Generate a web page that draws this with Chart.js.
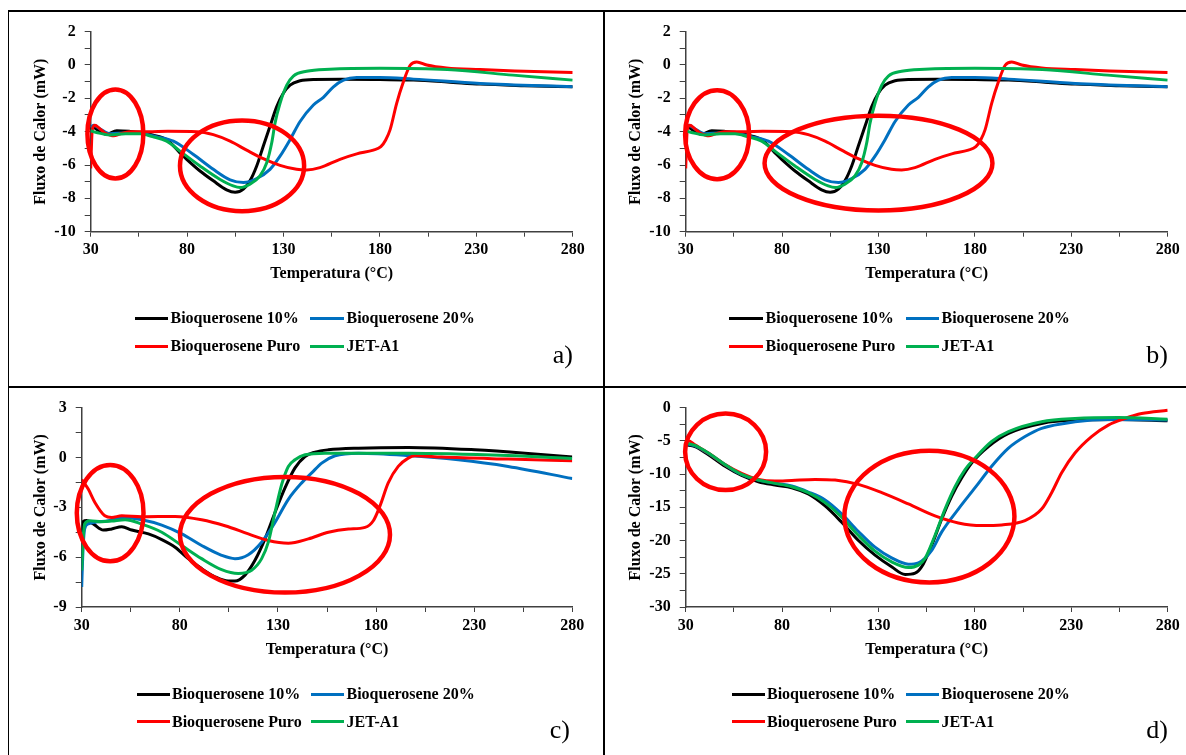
<!DOCTYPE html>
<html><head><meta charset="utf-8">
<script src="https://cdn.jsdelivr.net/npm/chart.js@4.4.1/dist/chart.umd.min.js"></script>
<style>
html,body{margin:0;padding:0;background:#fff;}
body{width:1186px;height:755px;position:relative;overflow:hidden;font-family:"Liberation Serif","Times New Roman",serif;}
canvas{position:absolute;}
.rule{position:absolute;background:#000;z-index:5;}
.leg{position:absolute;font-weight:bold;font-size:16px;line-height:20px;white-space:nowrap;color:#000;z-index:4;}
.legline{position:absolute;height:3px;z-index:4;}
.plab{position:absolute;font-size:26px;line-height:26px;color:#000;z-index:4;}
</style></head><body>
<script>
// ---------- DATA ----------
const SERIES = ['Bioquerosene 10%', 'Bioquerosene 20%', 'Bioquerosene Puro', 'JET-A1'];
const X_TICK_LABELS = [30, 80, 130, 180, 230, 280];
const Y_TICK_LABELS_AB = [2, 0, -2, -4, -6, -8, -10];
const Y_TICK_LABELS_C = [3, 0, -3, -6, -9];
const Y_TICK_LABELS_D = [0, -5, -10, -15, -20, -25, -30];
const PANEL_LETTERS = ['a)', 'b)', 'c)', 'd)'];

// Panels a) and b) (same curves)
const AB_T_10 = [30, 31, 33, 38, 43.5, 50, 55.6, 62, 69.4, 76.3, 79.8, 86.7, 93.6, 100.5, 104.9, 109.2, 112.6, 116.1, 119.5, 123, 126.5, 129.9, 133.4, 138.6, 145.5, 160, 180, 197.4, 215, 232, 255, 280];
const AB_F_10 = [-3.9, -3.7, -3.85, -4.15, -3.95, -3.98, -4.04, -4.2, -4.47, -5.27, -5.66, -6.36, -6.95, -7.49, -7.64, -7.45, -6.95, -6.06, -4.87, -3.68, -2.5, -1.7, -1.21, -0.95, -0.87, -0.86, -0.88, -0.91, -1.02, -1.15, -1.24, -1.31];
const AB_T_20 = [30, 31.5, 35, 40, 48, 55.6, 64, 72.9, 83.3, 93.6, 102.3, 109.2, 116.1, 123, 128.2, 133.4, 138.6, 145.5, 150.7, 155.9, 161.1, 168, 180, 197.4, 232, 280];
const AB_F_20 = [-3.75, -3.62, -3.85, -4.12, -4.08, -4.1, -4.3, -4.57, -5.37, -6.26, -6.89, -7.05, -6.81, -6.26, -5.47, -4.48, -3.39, -2.4, -1.94, -1.31, -0.91, -0.75, -0.75, -0.85, -1.11, -1.31];
const AB_T_PURO = [30, 30.8, 32.2, 34.5, 37, 40, 42, 45, 50, 60, 70, 85, 93.6, 102.3, 110.9, 119.5, 128.2, 136.8, 142, 148.9, 159.3, 168, 176.6, 180.5, 183, 185.3, 188.7, 192.2, 195.7, 199.1, 204.3, 214.6, 232, 250, 280];
const AB_F_PURO = [-6.2, -3.9, -3.62, -3.8, -4.05, -4.2, -4.25, -4.15, -4.0, -4.0, -3.98, -4.0, -4.18, -4.57, -5.11, -5.62, -6.02, -6.26, -6.3, -6.16, -5.66, -5.33, -5.11, -4.9, -4.5, -3.88, -2.3, -1.01, -0.02, 0.18, 0.0, -0.18, -0.28, -0.36, -0.46];
const AB_T_JET = [30, 33, 40, 48, 55.6, 62, 69.4, 76.3, 86.7, 96.9, 103.9, 107.5, 112.6, 117.8, 121.3, 123.9, 125.6, 128.2, 131.7, 135.1, 142, 154, 180, 215, 249, 280];
const AB_F_JET = [-3.95, -4.05, -4.2, -4.12, -4.13, -4.3, -4.57, -5.17, -6.06, -6.85, -7.25, -7.35, -7.15, -6.65, -5.86, -4.67, -3.49, -2.3, -1.21, -0.67, -0.38, -0.26, -0.2, -0.28, -0.61, -0.91];

// Panel c)
const C_T_10 = [30, 30.8, 32.5, 35.9, 41, 45.3, 50.4, 55.5, 64, 70.8, 77.6, 84.3, 91.1, 97.9, 104.7, 108.1, 113.2, 118.3, 123.4, 128.5, 133.6, 138.7, 143.8, 148.9, 155.7, 171, 196.4, 230.4, 255.9, 280];
const C_F_10 = [-4.5, -3.85, -3.8, -4.0, -4.37, -4.3, -4.17, -4.37, -4.6, -4.94, -5.4, -6.09, -6.69, -7.18, -7.44, -7.44, -7.08, -6.19, -4.9, -3.31, -1.83, -0.63, 0.06, 0.32, 0.46, 0.56, 0.6, 0.46, 0.26, 0.02];
const C_T_20 = [30, 30.5, 31.5, 33.4, 36.8, 43.6, 50.4, 60.6, 70.8, 81, 91.1, 101.3, 108.1, 114.9, 121.7, 128.5, 135.3, 142.1, 147.2, 152.3, 159.1, 171, 196.4, 221.9, 247.3, 280];
const C_F_20 = [-7.8, -6.0, -4.3, -4.0, -3.9, -3.81, -3.61, -3.75, -4.07, -4.6, -5.3, -5.89, -6.09, -5.85, -5.1, -3.91, -2.52, -1.53, -0.93, -0.34, 0.1, 0.26, 0.12, -0.14, -0.54, -1.27];
const C_T_PURO = [30, 33.4, 36.8, 41.8, 45.3, 50.4, 60.6, 77.6, 91.1, 103, 114.9, 125.1, 135.3, 145.5, 155.7, 165.9, 174.4, 178.6, 182, 186.2, 191.3, 196.4, 199.8, 213.4, 247.3, 280];
const C_F_PURO = [-1.33, -1.92, -2.72, -3.51, -3.61, -3.51, -3.57, -3.55, -3.75, -4.11, -4.6, -5.0, -5.16, -4.9, -4.5, -4.31, -4.21, -3.81, -2.92, -1.53, -0.54, -0.04, 0.1, 0.02, -0.1, -0.2];
const C_T_JET = [30, 30.6, 31.5, 34.2, 40.2, 45.3, 52.1, 60.6, 70.8, 81, 91.1, 101.3, 109.8, 116.6, 121.7, 125.1, 128.5, 131.9, 135.3, 138.7, 143.8, 154, 196.4, 247.3, 280];
const C_F_JET = [-6.8, -5.2, -4.0, -3.81, -3.87, -3.83, -3.75, -4.01, -4.5, -5.3, -6.09, -6.75, -6.98, -6.79, -6.09, -5.1, -3.31, -1.63, -0.54, -0.14, 0.16, 0.26, 0.26, 0.12, -0.06];

// Panel d)
const D_T_10 = [30, 34.8, 41.8, 50.4, 59, 67.7, 76.3, 85, 93.6, 102.3, 110.9, 119.6, 128.2, 136.8, 143.8, 149, 152.4, 157.6, 162.8, 168, 173.2, 178.4, 187, 197.4, 214.6, 231.9, 255, 280];
const D_F_10 = [-5.6, -5.85, -7.09, -8.82, -10.2, -11.15, -11.65, -12.05, -13.0, -14.8, -17.25, -20.0, -22.2, -23.95, -25.1, -24.9, -23.95, -20.7, -16.75, -13.3, -10.55, -8.3, -5.85, -3.87, -2.38, -1.88, -1.8, -1.98];
const D_T_20 = [30, 34.8, 41.8, 50.4, 59, 67.7, 76.3, 85, 93.6, 102.3, 110.9, 119.6, 128.2, 136.8, 145.5, 150.7, 157.6, 162.8, 171.4, 180.1, 188.7, 197.4, 206, 214.6, 231.9, 249.2, 280];
const D_F_20 = [-5.4, -5.75, -6.9, -8.6, -10.06, -10.9, -11.35, -11.8, -12.7, -13.9, -16.0, -18.64, -21.0, -22.6, -23.55, -23.35, -21.47, -18.7, -15.27, -12.05, -8.82, -6.1, -4.36, -3.12, -2.13, -1.78, -1.88];
const D_T_PURO = [30, 31.4, 34.8, 41.8, 50.4, 59, 67.7, 76.3, 85, 97.1, 107.5, 119.6, 131.7, 145.5, 159.3, 171.4, 183.5, 193.9, 206, 214.6, 219.8, 225, 231.9, 240.5, 249.2, 257.8, 266.5, 280];
const D_F_PURO = [-5.2, -5.0, -5.6, -6.84, -8.58, -9.9, -10.8, -11.05, -10.95, -10.8, -10.9, -11.55, -12.8, -14.5, -16.3, -17.35, -17.75, -17.65, -17.0, -15.27, -12.8, -9.8, -6.84, -4.36, -2.63, -1.64, -0.9, -0.4];
const D_T_JET = [30, 34.8, 41.8, 50.4, 59, 67.7, 76.3, 85, 93.6, 102.3, 110.9, 119.6, 128.2, 136.8, 145.5, 150.7, 154.1, 159.3, 164.5, 169.7, 174.9, 180.1, 188.7, 197.4, 214.6, 231.9, 254.4, 280];
const D_F_JET = [-5.3, -5.7, -6.84, -8.58, -10.06, -10.9, -11.4, -11.9, -12.8, -14.3, -16.5, -19.24, -21.6, -23.2, -24.05, -23.7, -22.7, -19.24, -15.27, -11.9, -9.32, -7.59, -5.1, -3.62, -2.13, -1.64, -1.49, -1.74];

// Highlight ellipses: [centre temperature, centre flux, half-width (°C), half-height (mW)]
const ELLIPSES_A = [[42.8, -4.14, 14.5, 2.67], [108.5, -6.05, 32.2, 2.72]];
const ELLIPSES_B = [[46.3, -4.18, 16.6, 2.67], [130, -5.89, 59.1, 2.84]];
const ELLIPSES_C = [[44.5, -3.35, 17, 2.9], [133.6, -4.65, 53.5, 3.48]];
const ELLIPSES_D = [[50.7, -6.65, 21, 5.75], [156.4, -16.4, 44.1, 9.9]];

// ---------- STYLE / LAYOUT ----------
const COLORS = ['#000000', '#0070C0', '#FF0000', '#00B050'];
const FONT_FAMILY = '"Liberation Serif", "Times New Roman", serif';

const PANELS = [
  { series: [[AB_T_10, AB_F_10], [AB_T_20, AB_F_20], [AB_T_PURO, AB_F_PURO], [AB_T_JET, AB_F_JET]],
    ell: ELLIPSES_A, y: {min: -10, max: 2, step: 1, labels: Y_TICK_LABELS_AB},
    box: {x: 10, y: 13, w: 592, h: 372}, area: {l: 90.7, r: 572.7, t: 29.3, b: 231.7},
    yTitleX: 41, xTitleY: 274,
    leg: {rows: [318.3, 346], cols: [{l1: 134.7, l2: 168, t: 170.5}, {l1: 310, l2: 344, t: 346.5}]},
    lab: {r: 573, t: 341.7} },
  { series: [[AB_T_10, AB_F_10], [AB_T_20, AB_F_20], [AB_T_PURO, AB_F_PURO], [AB_T_JET, AB_F_JET]],
    ell: ELLIPSES_B, y: {min: -10, max: 2, step: 1, labels: Y_TICK_LABELS_AB},
    box: {x: 605, y: 13, w: 580, h: 372}, area: {l: 685.7, r: 1167.7, t: 29.3, b: 231.7},
    yTitleX: 635.6, xTitleY: 274,
    leg: {rows: [318.3, 346], cols: [{l1: 729, l2: 763, t: 765.5}, {l1: 906, l2: 939, t: 941.5}]},
    lab: {r: 1168, t: 341.7} },
  { series: [[C_T_10, C_F_10], [C_T_20, C_F_20], [C_T_PURO, C_F_PURO], [C_T_JET, C_F_JET]],
    ell: ELLIPSES_C, y: {min: -9, max: 3, step: 1.5, labels: Y_TICK_LABELS_C},
    box: {x: 10, y: 389, w: 592, h: 366}, area: {l: 81.7, r: 572.3, t: 405.3, b: 607},
    yTitleX: 41, xTitleY: 650,
    leg: {rows: [694.3, 721.7], cols: [{l1: 137, l2: 170, t: 172}, {l1: 311, l2: 344, t: 346.5}]},
    lab: {r: 570, t: 717} },
  { series: [[D_T_10, D_F_10], [D_T_20, D_F_20], [D_T_PURO, D_F_PURO], [D_T_JET, D_F_JET]],
    ell: ELLIPSES_D, y: {min: -30, max: 0, step: 2.5, labels: Y_TICK_LABELS_D},
    box: {x: 605, y: 389, w: 580, h: 366}, area: {l: 685.7, r: 1167.7, t: 405.3, b: 607},
    yTitleX: 635.6, xTitleY: 650,
    leg: {rows: [694.3, 721.7], cols: [{l1: 731.5, l2: 764.5, t: 767}, {l1: 906, l2: 939, t: 941.5}]},
    lab: {r: 1168, t: 717} }
];

Chart.defaults.font.family = FONT_FAMILY;
Chart.defaults.font.size = 16;
Chart.defaults.font.weight = 'bold';
Chart.defaults.color = '#000';

function makePanel(p, idx) {
  const cv = document.createElement('canvas');
  cv.width = p.box.w; cv.height = p.box.h;
  cv.style.left = p.box.x + 'px'; cv.style.top = p.box.y + 'px';
  cv.style.width = p.box.w + 'px'; cv.style.height = p.box.h + 'px';
  document.body.appendChild(cv);

  const lh = 16 * 1.2;
  const yW = p.area.l - p.box.x;
  const padTop = p.area.t - p.box.y;
  const padRight = p.box.x + p.box.w - p.area.r;
  const xBottom = p.xTitleY - p.box.y + lh / 2;
  const xH = xBottom - (p.area.b - p.box.y);
  const padBottom = p.box.h - xBottom;
  const yTitlePad = p.yTitleX - p.box.x - lh / 2;

  const ellipsePlugin = {
    id: 'ellipses' + idx,
    afterDatasetsDraw(chart) {
      const {ctx, scales: {x, y}} = chart;
      ctx.save();
      ctx.strokeStyle = '#FF0000';
      ctx.lineWidth = 4.5;
      p.ell.forEach(e => {
        const cx = x.getPixelForValue(e[0]), cy = y.getPixelForValue(e[1]);
        const rx = Math.abs(x.getPixelForValue(e[0] + e[2]) - cx);
        const ry = Math.abs(y.getPixelForValue(e[1] + e[3]) - cy);
        ctx.beginPath();
        ctx.ellipse(cx, cy, rx, ry, 0, 0, Math.PI * 2);
        ctx.stroke();
      });
      ctx.restore();
    }
  };

  new Chart(cv, {
    type: 'line',
    data: {
      datasets: p.series.map((s, i) => ({
        label: SERIES[i],
        data: s[0].map((t, k) => ({x: t, y: s[1][k]})),
        borderColor: COLORS[i],
        backgroundColor: COLORS[i],
        borderWidth: 3,
        pointRadius: 0,
        fill: false,
        tension: 0.4,
        cubicInterpolationMode: 'monotone',
        order: 3 - i
      }))
    },
    options: {
      responsive: false,
      animation: false,
      devicePixelRatio: 1,
      events: [],
      layout: {padding: {left: 0, top: padTop, right: padRight, bottom: padBottom}},
      plugins: {legend: {display: false}, tooltip: {enabled: false}, title: {display: false}},
      scales: {
        x: {
          type: 'linear', min: 30, max: 280,
          afterFit: sc => { sc.height = xH; },
          ticks: {stepSize: 25, autoSkip: false, maxRotation: 0, padding: 4,
                  callback: v => X_TICK_LABELS.includes(v) ? String(v) : ''},
          grid: {display: true, drawOnChartArea: false, drawTicks: true, tickLength: 5, color: '#404040', lineWidth: 1},
          border: {display: true, color: '#404040', width: 1.5},
          title: {display: true, text: 'Temperatura (°C)', padding: {top: 0, bottom: 0}, font: {size: 16, weight: 'bold'}}
        },
        y: {
          type: 'linear', min: p.y.min, max: p.y.max,
          afterFit: sc => { sc.width = yW; },
          ticks: {stepSize: p.y.step, autoSkip: false, padding: 9,
                  callback: v => p.y.labels.includes(v) ? String(v) : ''},
          grid: {display: true, drawOnChartArea: false, drawTicks: true, tickLength: 6, color: '#404040', lineWidth: 1},
          border: {display: true, color: '#404040', width: 1.5},
          title: {display: true, text: 'Fluxo de Calor (mW)', padding: {top: yTitlePad, bottom: 0}, font: {size: 16, weight: 'bold'}}
        }
      }
    },
    plugins: [ellipsePlugin]
  });

  // legend (2 x 2)
  SERIES.forEach((name, i) => {
    const row = p.leg.rows[Math.floor(i / 2)];
    const col = p.leg.cols[i % 2];
    const ln = document.createElement('div');
    ln.className = 'legline';
    ln.style.left = col.l1 + 'px'; ln.style.width = (col.l2 - col.l1) + 'px';
    ln.style.top = (row - 1.5) + 'px'; ln.style.background = COLORS[i];
    document.body.appendChild(ln);
    const tx = document.createElement('div');
    tx.className = 'leg';
    tx.style.left = col.t + 'px'; tx.style.top = (row - 10) + 'px';
    tx.textContent = name;
    document.body.appendChild(tx);
  });

  const lb = document.createElement('div');
  lb.className = 'plab';
  lb.textContent = PANEL_LETTERS[idx];
  lb.style.right = (1186 - p.lab.r) + 'px';
  lb.style.top = p.lab.t + 'px';
  document.body.appendChild(lb);
}

PANELS.forEach(makePanel);

// table rules
[[8, 10, 1178, 2], [8, 10, 1, 745], [8, 386, 1178, 1.5], [603, 10, 1.5, 745]].forEach(r => {
  const d = document.createElement('div');
  d.className = 'rule';
  d.style.left = r[0] + 'px'; d.style.top = r[1] + 'px';
  d.style.width = r[2] + 'px'; d.style.height = r[3] + 'px';
  document.body.appendChild(d);
});
</script>
</body></html>
